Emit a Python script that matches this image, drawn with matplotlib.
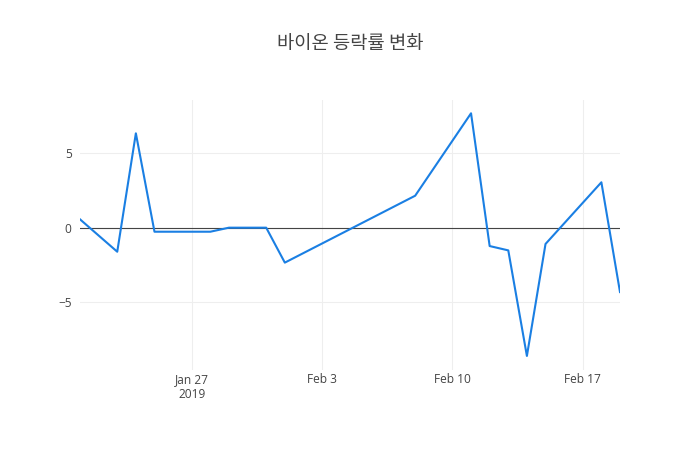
import matplotlib.pyplot as plt
import matplotlib.dates as mdates
import pandas as pd

plt.rcParams['font.family'] = ['Open Sans', 'Noto Sans CJK KR', 'DejaVu Sans']

dates = ["2019-01-21", "2019-01-23", "2019-01-24", "2019-01-25", "2019-01-28",
         "2019-01-29", "2019-01-31", "2019-02-01", "2019-02-08", "2019-02-11",
         "2019-02-12", "2019-02-13", "2019-02-14", "2019-02-15", "2019-02-18",
         "2019-02-19"]
change = [0.56, -1.61, 6.32, -0.27, -0.27, 0.0, 0.0, -2.34, 2.14, 7.66,
          -1.23, -1.52, -8.59, -1.09, 3.04, -4.31]
yticks = [-5, 0, 5]
xticks = ["2019-01-27", "2019-02-03", "2019-02-10", "2019-02-17"]
xlabels = ["Jan 27\n2019", "Feb 3", "Feb 10", "Feb 17"]

x = pd.to_datetime(dates)

fig = plt.figure(figsize=(7, 4.5), dpi=100)
ax = fig.add_axes([80 / 700, 80 / 450, 540 / 700, 270 / 450])

ax.plot(x, change, color='#1a7fe3', linewidth=1.5, zorder=3)
ax.axhline(0, color='#444444', linewidth=0.8, zorder=2)

ax.set_xlim(x[0], x[-1])
ax.set_ylim(-9.53, 8.55)
ax.set_yticks(yticks)
ax.set_yticklabels(['\u22125', '0', '5'])
ax.set_xticks(pd.to_datetime(xticks))
ax.set_xticklabels(xlabels)

ax.grid(True, color='#eeeeee', linewidth=0.8, zorder=0)
for s in ax.spines.values():
    s.set_visible(False)
ax.tick_params(length=0, colors='#444444', labelsize=8.6)
ax.tick_params(axis='x', pad=2)
ax.tick_params(axis='y', pad=6)
for lbl in ax.get_xticklabels():
    lbl.set_linespacing(1.25)

fig.suptitle('바이온 등락률 변화', x=0.5, y=1 - 43 / 450, va='center',
             fontsize=13.5, color='#444444', family=['Noto Sans CJK KR', 'DejaVu Sans'])

fig.savefig('out.png', dpi=100)
